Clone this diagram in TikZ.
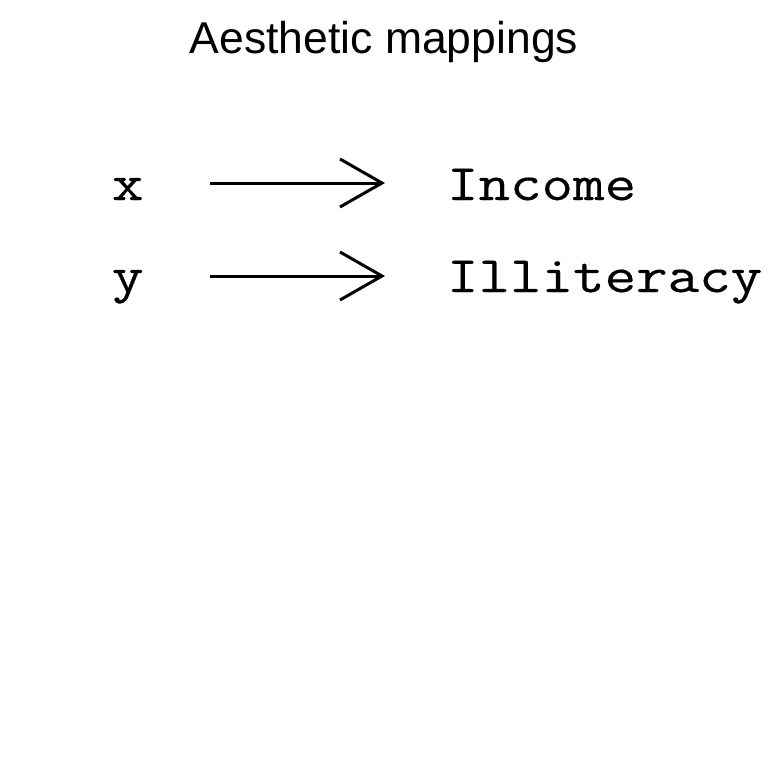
\documentclass[tikz,border=0pt]{standalone}
\usepackage{fontspec}
\setmainfont{Liberation Sans}
\newfontfamily\codefont[FakeStretch=1.2, FakeBold=0.4]{Latin Modern Mono}
\usetikzlibrary{arrows.meta, positioning, calc}

\begin{document}
\begin{tikzpicture}[x=1pt, y=-1pt, >={Straight Barb[length=42pt, width=48pt]},
  every node/.style={inner sep=0pt, outer sep=0pt},
  title/.style={font=\fontsize{44.5}{50}\selectfont, anchor=base},
  code/.style={font=\codefont\fontsize{51}{60}\selectfont, anchor=base west},
  map/.style={->, line width=3pt}]
\useasboundingbox (0,0) rectangle (768,768);
\node[title] (head) at (384,54) {Aesthetic mappings};
\node[code] (xv) at (112,200) {x};
\node[code] (yv) at (112,292) {y};
\node[code] (income) at (447,200) {Income};
\node[code] (illit) at (447,292) {Illiteracy};
\coordinate (xs) at ($(xv.base west)+(98,-17)$);
\coordinate (xe) at ($(income.base west)+(-62,-17)$);
\coordinate (ys) at ($(yv.base west)+(98,-16)$);
\coordinate (ye) at ($(illit.base west)+(-62,-16)$);
\draw[map] (xs) -- (xe);
\draw[map] (ys) -- (ye);
\end{tikzpicture}
\end{document}
